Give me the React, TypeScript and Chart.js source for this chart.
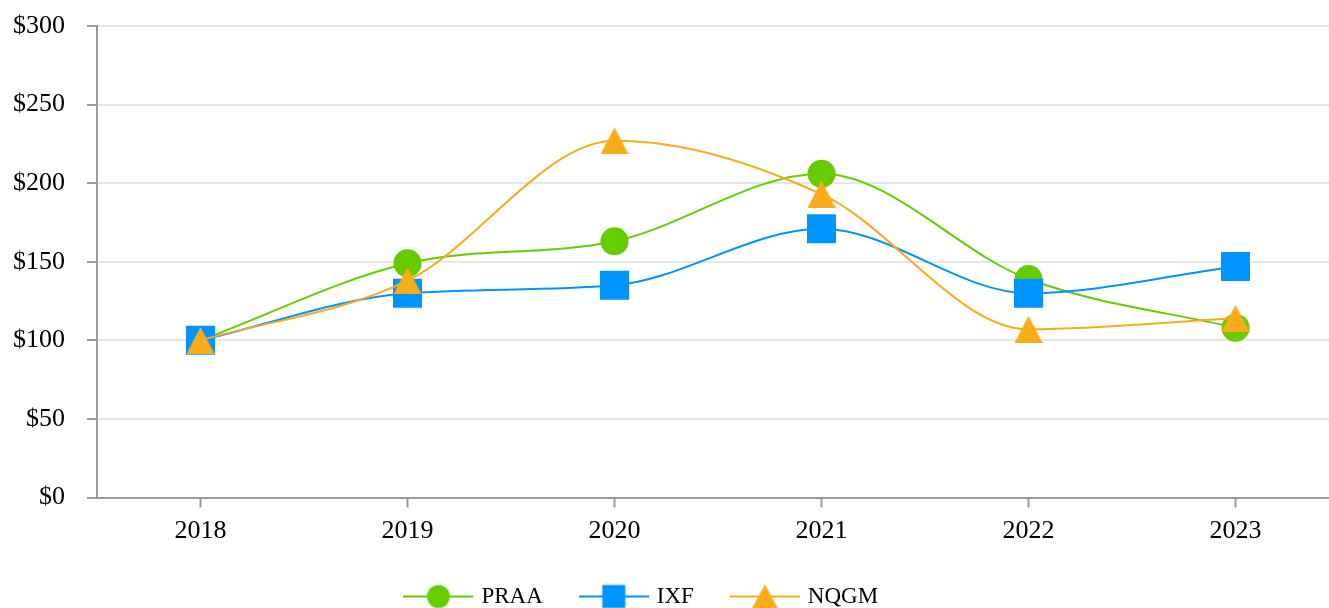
import { useEffect, useRef } from 'react';
import { Chart, registerables } from 'chart.js';

Chart.register(...registerables);

const years = ['2018', '2019', '2020', '2021', '2022', '2023'];
const praaValues = [100, 149, 163, 206, 139, 108];
const ixfValues = [100, 130, 135, 171, 130, 147];
const nqgmValues = [100, 138, 227, 193, 107, 114];
const seriesNames = ['PRAA', 'IXF', 'NQGM'];
const seriesColors = ['#66CC00', '#0094FF', '#FAAB19'];
const yMin = 0;
const yMax = 300;
const yStep = 50;

const FONT = "'Liberation Serif', 'Times New Roman', serif";

function makeTriangle(color: string, w: number, h: number) {
  const c = document.createElement('canvas');
  c.width = w;
  c.height = h;
  const ctx = c.getContext('2d')!;
  ctx.fillStyle = color;
  ctx.beginPath();
  ctx.moveTo(w / 2, 0);
  ctx.lineTo(w, h);
  ctx.lineTo(0, h);
  ctx.closePath();
  ctx.fill();
  return c;
}

function makeLegendIcon(color: string, kind: string) {
  const w = 70;
  const h = 26;
  const c = document.createElement('canvas');
  c.width = w;
  c.height = h;
  const ctx = c.getContext('2d')!;
  ctx.strokeStyle = color;
  ctx.lineWidth = 2;
  ctx.beginPath();
  ctx.moveTo(0, h / 2);
  ctx.lineTo(w, h / 2);
  ctx.stroke();
  ctx.fillStyle = color;
  const cx = w / 2;
  const cy = h / 2;
  ctx.beginPath();
  if (kind === 'circle') {
    ctx.arc(cx, cy, 11.5, 0, Math.PI * 2);
  } else if (kind === 'rect') {
    ctx.rect(cx - 11.5, cy - 11.5, 23, 23);
  } else {
    ctx.moveTo(cx, cy - 12);
    ctx.lineTo(cx + 13, cy + 12);
    ctx.lineTo(cx - 13, cy + 12);
    ctx.closePath();
  }
  ctx.fill();
  return c;
}

const legendShift = {
  id: 'legendShift',
  afterLayout(chart: any) {
    const l = chart.legend;
    if (l) {
      l.left -= 27;
      l.right -= 27;
    }
  },
};

export default function App() {
  const ref = useRef<HTMLCanvasElement>(null);

  useEffect(() => {
    if (!ref.current) return;
    const tri = makeTriangle(seriesColors[2], 28, 27);
    const kinds = ['circle', 'rect', 'triangle'];
    const icons = seriesColors.map((c, i) => makeLegendIcon(c, kinds[i]));

    const chart = new Chart(ref.current, {
      type: 'line',
      data: {
        labels: years,
        datasets: [
          {
            label: seriesNames[0],
            data: praaValues,
            borderColor: seriesColors[0],
            backgroundColor: seriesColors[0],
            pointBackgroundColor: seriesColors[0],
            pointBorderColor: seriesColors[0],
            pointBorderWidth: 0,
            pointStyle: 'circle',
            pointRadius: 14,
            borderWidth: 2,
            cubicInterpolationMode: 'monotone',
            order: 3,
          },
          {
            label: seriesNames[1],
            data: ixfValues,
            borderColor: seriesColors[1],
            backgroundColor: seriesColors[1],
            pointBackgroundColor: seriesColors[1],
            pointBorderColor: seriesColors[1],
            pointBorderWidth: 0,
            pointStyle: 'rect',
            pointRadius: 20.5,
            borderWidth: 2,
            cubicInterpolationMode: 'monotone',
            order: 2,
          },
          {
            label: seriesNames[2],
            data: nqgmValues,
            borderColor: seriesColors[2],
            backgroundColor: seriesColors[2],
            pointBackgroundColor: seriesColors[2],
            pointBorderColor: seriesColors[2],
            pointBorderWidth: 0,
            pointStyle: tri as any,
            pointRadius: 14,
            borderWidth: 2,
            cubicInterpolationMode: 'monotone',
            order: 1,
          },
        ],
      },
      options: {
        responsive: false,
        animation: false,
        devicePixelRatio: 1,
        layout: { autoPadding: false, padding: { top: 26, right: 6, left: 0, bottom: 0 } },
        plugins: {
          tooltip: { enabled: false },
          legend: {
            position: 'bottom',
            labels: {
              usePointStyle: true,
              pointStyleWidth: 63,
              boxHeight: 23,
              padding: 39.5,
              color: '#000',
              font: { family: FONT, size: 23 },
              generateLabels: (ch: any) =>
                ch.data.datasets.map((ds: any, i: number) => ({
                  text: ds.label,
                  pointStyle: icons[i],
                  fillStyle: seriesColors[i],
                  strokeStyle: seriesColors[i],
                  lineWidth: 0,
                  hidden: false,
                  datasetIndex: i,
                  fontColor: '#000',
                })),
            },
          },
        },
        scales: {
          x: {
            offset: true,
            afterFit: (s: any) => {
              s.paddingLeft = 0;
              s.paddingRight = 0;
              s.height = 48;
            },
            grid: {
              display: true,
              drawOnChartArea: false,
              drawTicks: true,
              tickLength: 10,
              tickColor: '#999',
              tickWidth: 2,
            },
            border: { color: '#999', width: 2 },
            ticks: {
              color: '#000',
              padding: 8,
              font: { family: FONT, size: 26 },
            },
          },
          y: {
            min: yMin,
            max: yMax,
            afterFit: (s: any) => {
              s.width = 97;
              s.paddingTop = 0;
              s.paddingBottom = 0;
            },
            grid: {
              color: '#e6e6e6',
              lineWidth: 2,
              tickLength: 10,
              tickColor: '#999',
              tickWidth: 2,
            },
            border: { color: '#999', width: 2 },
            ticks: {
              stepSize: yStep,
              color: '#000',
              padding: 22,
              font: { family: FONT, size: 26 },
              callback: (v: any) => '$' + v,
            },
          },
        },
      },
      plugins: [legendShift],
    });
    return () => chart.destroy();
  }, []);

  return (
    <div
      style={{
        position: 'fixed',
        left: 0,
        top: 0,
        width: 1329,
        height: 608,
        overflow: 'hidden',
        background: '#fff',
      }}
    >
      <canvas ref={ref} width={1345} height={618} style={{ display: 'block' }} />
    </div>
  );
}
